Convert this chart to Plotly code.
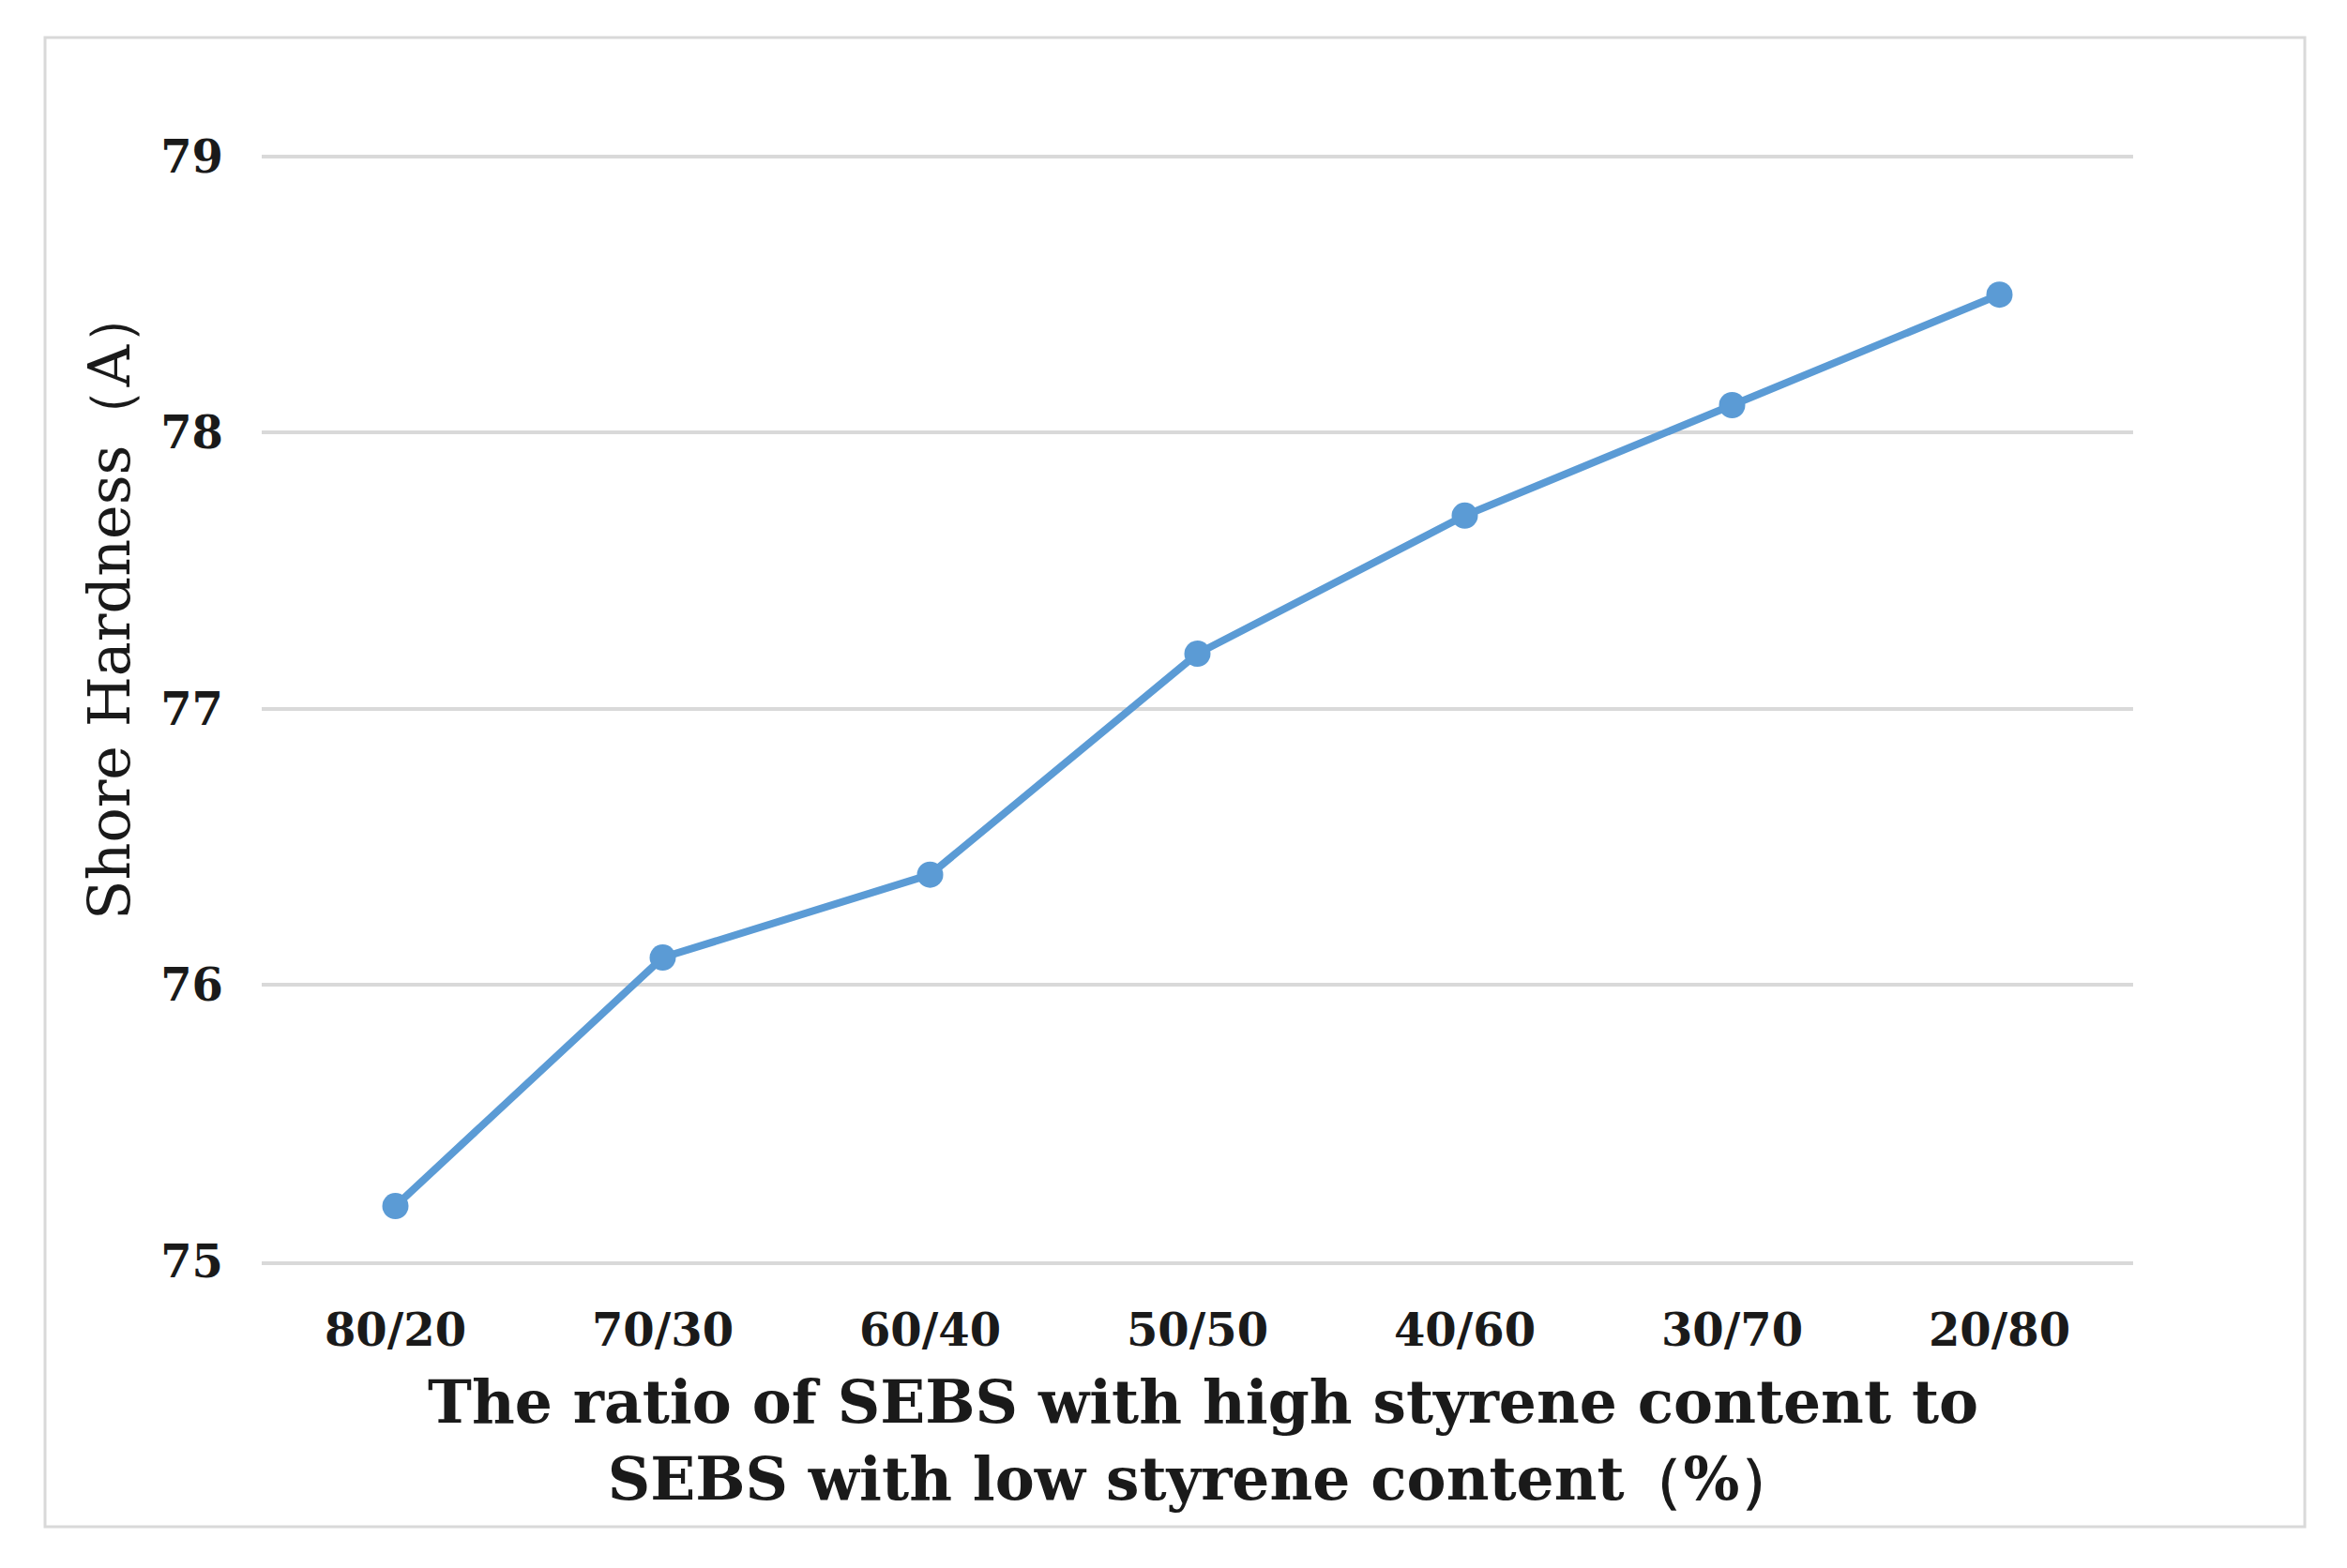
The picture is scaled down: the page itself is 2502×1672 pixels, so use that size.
import plotly.graph_objects as go

categories = ["80/20", "70/30", "60/40", "50/50", "40/60", "30/70", "20/80"]
hardness = [75.2, 76.1, 76.4, 77.2, 77.7, 78.1, 78.5]
y_ticks = [75, 76, 77, 78, 79]

x_title = "The ratio of SEBS with high styrene content to<br>SEBS with low styrene content（%）"
y_title = "Shore Hardness（A）"

W, H = 2502, 1672
L, R, T, B = 279, 228, 164, 327

fig = go.Figure()
fig.add_trace(go.Scatter(
    x=categories, y=hardness, mode="lines+markers",
    line=dict(color="#5b9bd5", width=8),
    marker=dict(color="#5b9bd5", size=28),
    showlegend=False,
))

fig.update_layout(
    width=W, height=H,
    margin=dict(l=L, r=R, t=T, b=B),
    paper_bgcolor="white", plot_bgcolor="white",
    xaxis=dict(
        type="category", range=[-0.5, 6.5],
        showgrid=False, zeroline=False,
        showline=True, linecolor="#d9d9d9", linewidth=4,
        ticks="", ticklabelstandoff=28,
        tickfont=dict(family="DejaVu Serif", size=48, color="#1a1a1a", weight="bold"),
    ),
    yaxis=dict(
        range=[75, 79.01], tickvals=y_ticks,
        showgrid=True, gridcolor="#d9d9d9", gridwidth=4,
        zeroline=False, showline=False, ticks="",
        ticklabelstandoff=40,
        tickfont=dict(family="DejaVu Serif", size=48, color="#1a1a1a", weight="bold"),
    ),
    shapes=[dict(type="rect", xref="paper", yref="paper",
                 x0=(48 - L) / (W - L - R), x1=(2457 - L) / (W - L - R),
                 y0=(H - B - 1628) / (H - T - B), y1=(H - B - 40) / (H - T - B),
                 line=dict(color="#d9d9d9", width=3), layer="below")],
    annotations=[
        dict(text=x_title, xref="paper", yref="paper", x=0.503,
             y=(H - B - 1536) / (H - T - B), xanchor="center", yanchor="middle",
             showarrow=False, align="center",
             font=dict(family="DejaVu Serif", size=63, color="#1a1a1a", weight="bold")),
        dict(text=y_title, xref="paper", yref="paper",
             x=(116 - L) / (W - L - R), y=(H - B - 644) / (H - T - B),
             xanchor="center", yanchor="middle", textangle=-90, showarrow=False,
             font=dict(family="DejaVu Serif", size=62, color="#1a1a1a")),
    ],
)

fig.write_html("out.html", config={"displayModeBar": False},
               post_script="document.body.style.margin='0';document.body.style.overflow='hidden';")
